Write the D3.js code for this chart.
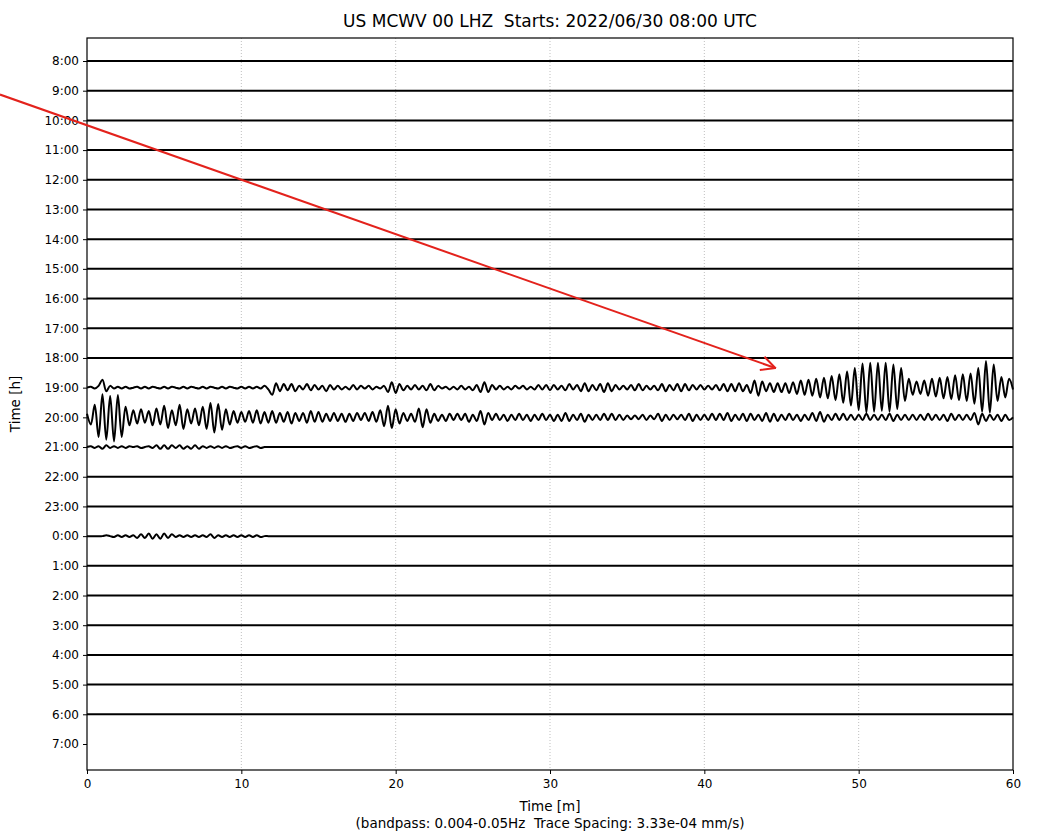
<!DOCTYPE html>
<html>
<head>
<meta charset="utf-8">
<script src="https://cdn.jsdelivr.net/npm/d3@7"></script>
<style>
  body { margin: 0; background: #fff; }
  svg text { font-family: "DejaVu Sans", sans-serif; fill: #000; white-space: pre; }
</style>
</head>
<body>
<div id="chart"></div>
<script>
// hour rows, top to bottom
let hourLabels = ['8:00','9:00','10:00','11:00','12:00','13:00','14:00','15:00','16:00','17:00',
  '18:00','19:00','20:00','21:00','22:00','23:00','0:00','1:00','2:00','3:00','4:00','5:00','6:00','7:00'];
let traceHours = hourLabels.slice(0, 23);   // 7:00 row has no data yet
let minuteTicks = [0, 10, 20, 30, 40, 50, 60];
let stepMin = 0.25;           // sample spacing of the traces (minutes)
let traceSpacing = 33.3;      // 3.33e-04 mm/s, values below in 1e-5 mm/s

// amplitudes, one value per 0.25 min (1e-5 mm/s)
let trace1900 = [
  0, 1, -1, 2,   9, -4, 2, -1,   1, -1, 1, -1,   0, 1, -1, 1,   -1, 1, 0, -1,
  1, -1, 1, 0,   -1, 1, -1, 1,   0, -1, 1, -1,   1, 0, -1, 1,   -1, 1, 0, -1,
  1, -1, 1, -1,  1, -1, 2, -2,   -8, 5, -4, 4,   -3, 4, -4, 2,  -2, 4, -3, 3,
  -2, 2, -4, 3,  -2, 2, -2, 1,   -2, 3, -2, 2,   -1, 2, -2, 1,  -1, 2, -5, 6,
  -6, 4, -3, 2,  -2, 3, -2, 2,   -3, 4, -3, 2,   -1, 1, -2, 1,  -2, 2, -2, 1,
  -3, 3, -5, 6,  -5, 3, -2, 2,   -2, 1, -2, 2,   -1, 2, -2, 1,  -2, 3, -2, 3,
  -3, 3, -2, 2,  -3, 4, -2, 3,   -4, 5, -4, 3,   -3, 4, -5, 5,  -4, 3, -2, 2,
  -2, 3, -3, 4,  -3, 2, -2, 2,   -3, 4, -4, 3,   -3, 4, -4, 4,  -3, 3, -2, 3,
  -2, 2, -2, 3,  -3, 4, -4, 4,   -4, 5, -4, 3,   -6, 8, -9, 7,  -4, 5, -5, 5,
  -5, 5, -6, 6,  -7, 8, -8, 9,   -9, 10, -11, 11, -12, 13, -14, 15, -17, 18, -20, 22,
  -25, 27, -28, 28, -27, 28, -26, 28, -27, 26, -24, 22, -15, 10, -8, 7, -7, 8, -9, 10,
  -10, 11, -12, 12, -13, 14, -14, 15, -15, 16, -18, 22, -27, 30, -28, 26, -15, 12, -11, 10,
  -2
];
let trace2000 = [
  4, -8, 14, -22,  26, -25, 24, -27,  25, -22, 12, -9,  8, -7, 9, -6,  7, -9, 10, -8,
  13, -12, 8, -9,  14, -13, 9, -7,  10, -9, 12, -13,  16, -17, 15, -14,  9, -8, 7, -6,
  6, -5, 7, -6,  8, -7, 6, -6,  7, -6, 5, -5,  6, -7, 5, -4,  5, -6, 7, -5,
  6, -5, 4, -4,  5, -4, 4, -5,  4, -4, 5, -3,  5, -4, 6, -5,  8, -10, 13, -12,
  9, -7, 5, -4,  4, -5, 10, -11,  9, -6, 4, -4,  3, -4, 4, -3,  4, -3, 4, -5,
  3, -4, 7, -8,  5, -3, 4, -3,  3, -4, 3, -3,  4, -3, 3, -4,  3, -3, 4, -3,
  3, -4, 3, -4,  5, -4, 3, -3,  4, -5, 3, -3,  3, -3, 4, -3,  4, -3, 3, -3,
  2, -2, 2, -2,  3, -3, 2, -2,  4, -4, 3, -3,  3, -2, 3, -3,  4, -4, 3, -3,
  3, -3, 4, -3,  4, -3, 5, -4,  3, -3, 4, -4,  4, -3, 3, -4,  5, -5, 4, -4,
  3, -3, 4, -3,  3, -4, 3, -3,  5, -4, 6, -5,  3, -3, 4, -3,  4, -3, 3, -3,
  3, -3, 4, -3,  3, -3, 3, -3,  4, -4, 3, -3,  3, -3, 3, -3,  3, -3, 4, -3,
  3, -3, 3, -4,  4, -3, 3, -3,  3, -3, 5, -8,  4, -4, 3, -3,  3, -4, 3, -3,
  0
];
let trace2100 = [
  0, 1, -1, 1,  -2, 2, -1, 1,  -1, 1, -1, 1,  0, 1, -1, 0,  1, -1, 2, -2,
  2, -2, 2, -1,  2, -2, 1, -2,  2, -2, 1, -1,  1, -1, 1, -1,  1, -1, 0, 1,
  -1, 1, -1, 0,  1, -1, 0, 0
];
let trace0000 = [
  0, 0, 0, 0,  0, 1, 0, -1,  1, -1, 1, -1,  1, -2, 2, -2,  3, -3, 2, -3,
  3, -2, 2, -1,  1, -1, 1, -1,  1, -1, 1, -1,  2, -2, 1, -1,  1, -1, 1, -1,
  1, -1, 1, -1,  1, -1, 0, 0
];
let activeTraces = [['19:00', trace1900], ['20:00', trace2000], ['21:00', trace2100], ['0:00', trace0000]];

// red annotation arrow, in (minute, row) units
let arrowFrom = [-5.64, 1.13];
let arrowTo = [44.6, 10.34];

let width = 1046,
    height = 835,
    margin = {top: 38, right: 33, bottom: 65, left: 87};

let svg = d3.select('#chart')
  .append('svg')
  .attr('width', width)
  .attr('height', height);

let x = d3.scaleLinear()
  .domain([0, 60])
  .range([margin.left, width - margin.right]);

let rowStep = (744 - 61) / 23;
let y = d3.scaleLinear()
  .domain([0, 23])
  .range([61, 744]);
let amp = d3.scaleLinear()
  .domain([0, traceSpacing])
  .range([0, rowStep]);

// grid
svg.append('g')
  .selectAll('line')
  .data(minuteTicks.slice(1, -1))
  .enter().append('line')
    .attr('x1', d => x(d)).attr('x2', d => x(d))
    .attr('y1', margin.top).attr('y2', height - margin.bottom)
    .attr('stroke', '#b8b8b8')
    .attr('stroke-width', 0.9)
    .attr('stroke-dasharray', '1,2');

// traces
let line = d3.line()
  .x(d => x(d[0]))
  .y(d => d[1])
  .curve(d3.curveCatmullRom);

let lookup = new Map(activeTraces);
let nSteps = 60 / stepMin;

let traceData = traceHours.map((h, i) => {
  let vals = lookup.get(h) || [];
  let pts = d3.range(nSteps + 1).map(k => [k * stepMin, y(i) - amp(vals[k] || 0)]);
  return {hour: h, pts: pts};
});

svg.append('g')
  .selectAll('path')
  .data(traceData)
  .enter().append('path')
    .attr('d', d => line(d.pts))
    .attr('fill', 'none')
    .attr('stroke', '#000')
    .attr('stroke-width', 2)
    .attr('stroke-linejoin', 'round');

// frame
svg.append('rect')
  .attr('x', margin.left)
  .attr('y', margin.top)
  .attr('width', width - margin.left - margin.right)
  .attr('height', height - margin.top - margin.bottom)
  .attr('fill', 'none')
  .attr('stroke', '#000')
  .attr('stroke-width', 1.2);

// axes
let xAxis = svg.append('g')
  .attr('transform', `translate(0,${height - margin.bottom})`)
  .call(d3.axisBottom(x).tickValues(minuteTicks).tickSize(4).tickPadding(5));
let yAxis = svg.append('g')
  .attr('transform', `translate(${margin.left},0)`)
  .call(d3.axisLeft(y).tickValues(d3.range(hourLabels.length)).tickFormat(i => hourLabels[i]).tickSize(4).tickPadding(4));
[xAxis, yAxis].forEach(a => {
  a.select('.domain').remove();
  a.selectAll('text').attr('font-size', 12).attr('font-family', '"DejaVu Sans", sans-serif');
  a.selectAll('line').attr('stroke', '#000');
});

// labels
svg.append('text')
  .attr('x', (margin.left + width - margin.right) / 2)
  .attr('y', 27)
  .attr('text-anchor', 'middle')
  .attr('font-size', 17)
  .text('US MCWV 00 LHZ  Starts: 2022/06/30 08:00 UTC');

svg.append('text')
  .attr('x', (margin.left + width - margin.right) / 2)
  .attr('y', 811)
  .attr('text-anchor', 'middle')
  .attr('font-size', 13.5)
  .text('Time [m]');
svg.append('text')
  .attr('x', (margin.left + width - margin.right) / 2)
  .attr('y', 828)
  .attr('text-anchor', 'middle')
  .attr('font-size', 13.5)
  .text('(bandpass: 0.004-0.05Hz  Trace Spacing: 3.33e-04 mm/s)');

svg.append('text')
  .attr('transform', `translate(20,${(margin.top + height - margin.bottom) / 2}) rotate(-90)`)
  .attr('text-anchor', 'middle')
  .attr('font-size', 13.5)
  .text('Time [h]');

// annotation arrow
let defs = svg.append('defs');
defs.append('marker')
  .attr('id', 'head')
  .attr('viewBox', '0 0 16 16')
  .attr('refX', 15).attr('refY', 8)
  .attr('markerWidth', 16).attr('markerHeight', 16)
  .attr('markerUnits', 'userSpaceOnUse')
  .attr('orient', 'auto')
  .append('path')
    .attr('d', 'M1,1 L15,8 L1,15')
    .attr('fill', 'none')
    .attr('stroke', '#e3221c')
    .attr('stroke-width', 2);

svg.append('line')
  .attr('x1', x(arrowFrom[0])).attr('y1', y(arrowFrom[1]))
  .attr('x2', x(arrowTo[0])).attr('y2', y(arrowTo[1]))
  .attr('stroke', '#e3221c')
  .attr('stroke-width', 2)
  .attr('marker-end', 'url(#head)');
</script>
</body>
</html>
